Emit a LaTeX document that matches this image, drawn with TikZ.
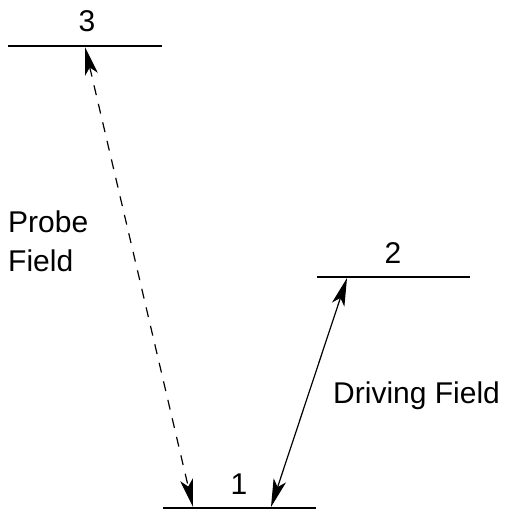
\documentclass[tikz,border=0pt]{standalone}
\usepackage{fontspec}
\setmainfont{Liberation Sans}
\usetikzlibrary{arrows.meta}
\begin{document}
\begin{tikzpicture}[x=1pt,y=-1pt,
  level/.style={line width=1.5pt},
  trans/.style={line width=1.2pt,{Stealth[length=28pt,width=13pt,inset=7pt]}-{Stealth[length=28pt,width=13pt,inset=7pt]}},
  lbl/.style={font=\fontsize{30}{39}\selectfont,inner sep=0pt,anchor=base},
  dashpat/.style={dash pattern=on 10pt off 9pt}]
\useasboundingbox (0,0) rectangle (506,510);
\coordinate (l3a) at (8,46);
\coordinate (l3b) at (162,46);
\coordinate (l2a) at (317,277);
\coordinate (l2b) at (470,277);
\coordinate (l1a) at (163,508);
\coordinate (l1b) at (316,508);
\draw[level] (l3a) -- (l3b);
\draw[level] (l2a) -- (l2b);
\draw[level] (l1a) -- (l1b);
\node[lbl] (n3) at (87,32) {3};
\node[lbl] (n2) at (393,263) {2};
\node[lbl] (n1) at (239,494) {1};
\coordinate (p3) at (85,47);
\coordinate (p1) at (193,507);
\coordinate (d2) at (347,278);
\coordinate (d1) at (271,507);
\draw[trans,dashpat] (p3) -- (p1);
\draw[trans] (d2) -- (d1);
\node[lbl,anchor=base west,align=left] (probe) at (8,271) {Probe\\Field};
\node[lbl,anchor=base west] (drive) at (333,403) {Driving Field};
\end{tikzpicture}
\end{document}
